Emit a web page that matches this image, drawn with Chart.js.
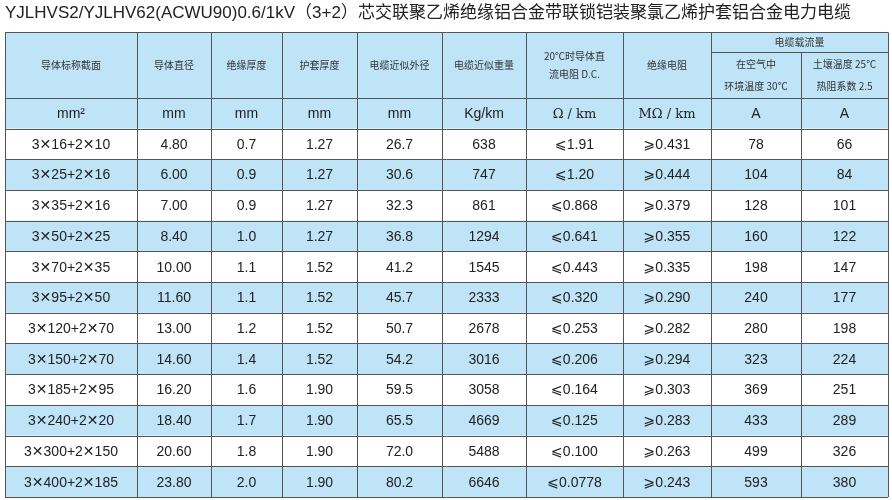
<!DOCTYPE html>
<html><head><meta charset="utf-8">
<script src="https://cdn.jsdelivr.net/npm/chart.js@4"></script>
<style>html,body{margin:0;padding:0;background:#fff}#w{width:892px;height:500px}</style>
</head><body><div id="w"><canvas id="c"></canvas></div>
<script>
const title = "YJLHVS2/YJLHV62(ACWU90)0.6/1kV（3+2）芯交联聚乙烯绝缘铝合金带联锁铠装聚氯乙烯护套铝合金电力电缆";
const headers = ["导体标称截面","导体直径","绝缘厚度","护套厚度","电缆近似外径","电缆近似重量",["20℃时导体直","流电阻 D.C."],"绝缘电阻"];
const groupHeader = "电缆载流量";
const subHeaders = [["在空气中","环境温度 30℃"],["土壤温度 25℃","热阻系数 2.5"]];
const units = ["mm²","mm","mm","mm","mm","Kg/km","Ω / km","MΩ / km","A","A"];
const sections = ["3×16+2×10","3×25+2×16","3×35+2×16","3×50+2×25","3×70+2×35","3×95+2×50","3×120+2×70","3×150+2×70","3×185+2×95","3×240+2×20","3×300+2×150","3×400+2×185"];
const conductorDia = ["4.80","6.00","7.00","8.40","10.00","11.60","13.00","14.60","16.20","18.40","20.60","23.80"];
const insulation = ["0.7","0.9","0.9","1.0","1.1","1.1","1.2","1.4","1.6","1.7","1.8","2.0"];
const sheath = ["1.27","1.27","1.27","1.27","1.52","1.52","1.52","1.52","1.90","1.90","1.90","1.90"];
const outerDia = ["26.7","30.6","32.3","36.8","41.2","45.7","50.7","54.2","59.5","65.5","72.0","80.2"];
const weight = ["638","747","861","1294","1545","2333","2678","3016","3058","4669","5488","6646"];
const resistance = ["≤1.91","≤1.20","≤0.868","≤0.641","≤0.443","≤0.320","≤0.253","≤0.206","≤0.164","≤0.125","≤0.100","≤0.0778"];
const insResist = ["≥0.431","≥0.444","≥0.379","≥0.355","≥0.335","≥0.290","≥0.282","≥0.294","≥0.303","≥0.283","≥0.263","≥0.243"];
const ampAir = [78,104,128,160,198,240,280,323,369,433,499,593];
const ampSoil = [66,84,101,122,147,177,198,224,251,289,326,380];

// layout (table units)
const colEdges = [0,132,206,277,352,437,521,618,706,796,883];
const headH = 66, subY = 20, unitH = 30, rowH = 30.67;
const totalH = headH + unitH + rowH*12;
const BLUE = "#bfe4f7", LINE = "#555";

const rows = sections.map((s,i)=>[s.replace(/×/g,"✕"),conductorDia[i],insulation[i],sheath[i],outerDia[i],weight[i],
  resistance[i].replace("≤","⩽"),insResist[i].replace("≥","⩾"),String(ampAir[i]),String(ampSoil[i])]);

const tablePlugin = {
  id:'table',
  afterDraw(chart){
    const ctx = chart.ctx, X = chart.scales.x, Y = chart.scales.y;
    const px = v=>X.getPixelForValue(v), py = v=>Y.getPixelForValue(v);
    const L=px(0), R=px(colEdges[colEdges.length-1]);
    ctx.save();
    ctx.fillStyle = BLUE;
    ctx.fillRect(L, py(0), R-L, py(headH+unitH)-py(0));
    for(let i=0;i<12;i++){ if(i%2===1){ const y0=headH+unitH+i*rowH; ctx.fillRect(L,py(y0),R-L,py(y0+rowH)-py(y0)); } }
    ctx.strokeStyle = LINE; ctx.lineWidth = 1;
    const hl=(y,x0,x1)=>{ctx.beginPath();ctx.moveTo(px(x0),Math.round(py(y))+0.5);ctx.lineTo(px(x1),Math.round(py(y))+0.5);ctx.stroke();};
    const vl=(x,y0,y1)=>{ctx.beginPath();ctx.moveTo(Math.round(px(x))+0.5,py(y0));ctx.lineTo(Math.round(px(x))+0.5,py(y1));ctx.stroke();};
    hl(0,0,colEdges[10]); hl(subY,colEdges[8],colEdges[10]);
    hl(headH,0,colEdges[10]);
    for(let i=0;i<=12;i++) hl(headH+unitH+i*rowH,0,colEdges[10]);
    colEdges.forEach((e,j)=>{ vl(e, (j===9)?subY:0, totalH); });
    ctx.textAlign='center'; ctx.textBaseline='middle';
    const cx=j=>(px(colEdges[j])+px(colEdges[j+1]))/2;
    ctx.fillStyle='#333'; ctx.font='10px "Noto Sans CJK SC", sans-serif';
    headers.forEach((h,j)=>{
      if(Array.isArray(h)){ ctx.fillText(h[0],cx(j),py(headH/2-9)); ctx.fillText(h[1],cx(j),py(headH/2+9)); }
      else ctx.fillText(h,cx(j),py(headH/2));
    });
    ctx.fillText(groupHeader,(px(colEdges[8])+px(colEdges[10]))/2,py(subY/2));
    subHeaders.forEach((h,k)=>{ ctx.fillText(h[0],cx(8+k),py(subY+12)); ctx.fillText(h[1],cx(8+k),py(subY+34)); });
    ctx.fillStyle='#222';
    units.forEach((u,j)=>{
      const serif = u.includes('Ω');
      ctx.font = serif ? '13px "DejaVu Serif", serif' : '14px "Liberation Sans", Arial, sans-serif';
      ctx.fillText(u,cx(j),py(headH+unitH/2+1));
    });
    ctx.font='14px "Liberation Sans", "DejaVu Sans", sans-serif';
    rows.forEach((r,i)=>{ const yc=headH+unitH+i*rowH+rowH/2+1; r.forEach((v,j)=>ctx.fillText(v,cx(j),py(yc))); });
    ctx.restore();
  }
};

new Chart(document.getElementById('c'),{
  type:'scatter',
  data:{datasets:[{data:[],pointRadius:0}]},
  options:{
    responsive:true, maintainAspectRatio:false, animation:false,
    layout:{padding:{left:5,right:4,top:3,bottom:3}},
    plugins:{legend:{display:false},tooltip:{enabled:false},
      title:{display:true,text:title,align:'start',color:'#222',font:{size:17,family:'"Liberation Sans", "Noto Sans CJK SC", sans-serif',weight:'normal'},padding:{top:0,bottom:9}}},
    scales:{
      x:{type:'linear',display:false,min:0,max:colEdges[colEdges.length-1]},
      y:{type:'linear',display:false,min:0,max:totalH,reverse:true}
    }
  },
  plugins:[tablePlugin]
});
</script></body></html>
